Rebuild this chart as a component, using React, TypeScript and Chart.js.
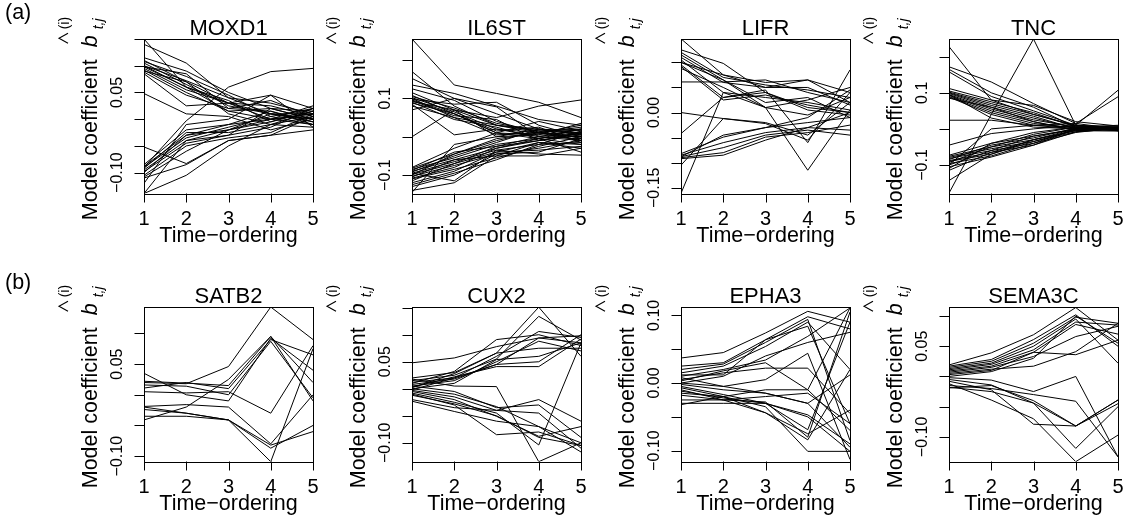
import React, { useEffect, useRef } from "react";
import { Chart, registerables } from "chart.js";

Chart.register(...registerables);

// ---------------- data ----------------
const TIMES = [1, 2, 3, 4, 5];
const TIME_LABELS = ["1", "2", "3", "4", "5"];
const X_TITLE = "Time\u2212ordering";

const MOXD1_RANGE = [-0.139, 0.15];
const MOXD1_YTICKS = [-0.1, -0.05, 0, 0.05, 0.1, 0.15];
const MOXD1_YLABELS = ["\u22120.10", "", "", "0.05", "", ""];
const MOXD1_SERIES = [
  [0.15, 0.06, 0.015, 0.0, 0.01],
  [0.14, 0.105, 0.04, 0.01, -0.005],
  [0.115, 0.09, 0.05, 0.02, 0.015],
  [0.11, 0.07, 0.03, 0.025, 0.005],
  [0.108, 0.08, 0.045, 0.005, 0.02],
  [0.105, 0.065, 0.025, 0.01, 0.0],
  [0.1, 0.072, 0.04, 0.03, 0.01],
  [0.1, 0.06, 0.035, -0.005, 0.02],
  [0.098, 0.085, 0.02, 0.015, -0.01],
  [0.095, 0.055, 0.03, 0.0, 0.025],
  [0.092, 0.05, 0.015, 0.02, 0.0],
  [0.09, 0.07, 0.01, -0.01, 0.015],
  [0.088, 0.045, 0.02, 0.035, 0.005],
  [0.085, 0.025, 0.03, 0.01, 0.01],
  [0.048, 0.01, 0.005, -0.02, 0.0],
  [0.098, 0.06, 0.03, 0.045, -0.015],
  [-0.085, -0.02, -0.01, 0.0, 0.01],
  [-0.088, -0.03, -0.02, -0.005, 0.015],
  [-0.09, -0.035, -0.015, 0.005, -0.01],
  [-0.092, -0.025, -0.025, -0.01, 0.005],
  [-0.095, -0.04, -0.02, 0.01, 0.0],
  [-0.098, -0.045, -0.03, -0.015, 0.02],
  [-0.1, -0.03, -0.01, 0.015, -0.005],
  [-0.105, -0.05, -0.035, -0.025, 0.01],
  [-0.108, -0.06, -0.02, 0.0, -0.01],
  [-0.11, -0.085, -0.04, -0.03, 0.005],
  [-0.139, -0.105, -0.05, -0.01, -0.015],
  [-0.139, -0.04, -0.03, 0.02, 0.0],
  [-0.052, -0.083, -0.04, -0.03, -0.02],
  [-0.09, -0.003, 0.06, 0.089, 0.095],
  [-0.12, -0.01, 0.0, 0.045, 0.02],
];

const IL6ST_RANGE = [-0.148, 0.255];
const IL6ST_YTICKS = [-0.1, 0, 0.1, 0.2];
const IL6ST_YLABELS = ["\u22120.1", "", "0.1", ""];
const IL6ST_SERIES = [
  [0.255, 0.135, 0.113, 0.09, 0.05],
  [0.17, 0.08, 0.03, 0.01, 0.0],
  [0.152, 0.1, 0.06, 0.02, 0.015],
  [0.135, 0.113, 0.08, 0.045, 0.03],
  [0.125, 0.095, 0.04, 0.01, -0.01],
  [0.115, 0.07, 0.03, 0.02, 0.005],
  [0.108, 0.06, 0.01, -0.005, 0.01],
  [0.105, 0.075, 0.035, 0.015, 0.02],
  [0.102, 0.065, 0.02, 0.0, -0.005],
  [0.1, 0.05, 0.005, 0.01, 0.025],
  [0.098, 0.085, 0.09, 0.03, 0.0],
  [0.096, 0.06, 0.015, 0.025, -0.015],
  [0.094, 0.055, 0.045, -0.01, 0.01],
  [0.092, 0.07, 0.0, 0.005, 0.035],
  [0.09, 0.045, 0.025, -0.005, -0.02],
  [0.088, 0.06, 0.01, 0.04, 0.015],
  [0.085, 0.005, 0.02, 0.01, 0.005],
  [0.08, 0.05, 0.03, 0.015, -0.01],
  [0.07, 0.1, 0.078, 0.0, 0.02],
  [0.0, 0.07, 0.05, 0.08, 0.096],
  [-0.08, -0.03, 0.01, 0.005, 0.0],
  [-0.082, -0.045, -0.01, 0.015, 0.01],
  [-0.085, -0.055, -0.02, -0.005, 0.02],
  [-0.088, -0.04, -0.025, 0.0, -0.01],
  [-0.09, -0.06, -0.03, -0.01, 0.005],
  [-0.092, -0.05, -0.015, 0.02, -0.005],
  [-0.095, -0.065, -0.035, -0.02, 0.015],
  [-0.098, -0.07, -0.04, -0.015, -0.02],
  [-0.1, -0.045, -0.005, 0.01, 0.03],
  [-0.103, -0.075, -0.045, -0.03, -0.01],
  [-0.105, -0.06, -0.05, -0.05, -0.03],
  [-0.108, -0.08, -0.03, -0.005, -0.04],
  [-0.11, -0.085, -0.055, -0.025, 0.0],
  [-0.115, -0.07, -0.025, -0.01, 0.01],
  [-0.12, -0.09, -0.04, -0.035, -0.025],
  [-0.125, -0.095, -0.06, -0.02, -0.015],
  [-0.13, -0.1, -0.045, -0.04, -0.005],
  [-0.14, -0.12, -0.05, -0.015, -0.03],
  [-0.145, -0.02, 0.0, 0.02, 0.01],
  [-0.095, -0.115, -0.035, -0.045, -0.048],
];

const LIFR_RANGE = [-0.1614, 0.1466];
const LIFR_YTICKS = [-0.15, -0.1, -0.05, 0, 0.05, 0.1];
const LIFR_YLABELS = ["\u22120.15", "", "", "0.00", "", ""];
const LIFR_SERIES = [
  [0.147, 0.075, 0.05, 0.065, 0.02],
  [0.125, 0.098, 0.04, 0.01, 0.0],
  [0.12, 0.07, 0.055, 0.045, 0.03],
  [0.115, 0.065, 0.02, 0.03, -0.01],
  [0.11, 0.06, 0.05, 0.05, 0.015],
  [0.105, 0.04, 0.03, 0.02, 0.005],
  [0.1, 0.075, 0.06, 0.065, 0.04],
  [0.095, 0.03, 0.045, -0.06, 0.085],
  [0.092, 0.025, 0.035, 0.015, 0.0],
  [0.088, 0.05, 0.01, 0.025, 0.05],
  [0.061, 0.061, 0.065, 0.04, 0.02],
  [0.1, 0.065, 0.01, -0.115, 0.005],
  [-0.042, 0.03, 0.04, 0.005, -0.005],
  [-0.082, -0.049, -0.03, -0.02, -0.01],
  [-0.085, -0.06, -0.04, -0.03, 0.0],
  [-0.088, -0.07, -0.045, -0.035, -0.045],
  [-0.09, -0.08, -0.049, -0.04, -0.025],
  [-0.092, -0.085, -0.055, -0.03, -0.035],
  [-0.105, -0.012, -0.02, -0.045, 0.02],
  [-0.161, 0.04, 0.01, -0.005, 0.03],
  [0.0, -0.012, -0.022, -0.055, 0.04],
  [-0.088, -0.045, -0.03, -0.01, 0.045],
];

const TNC_RANGE = [-0.179, 0.249];
const TNC_YTICKS = [-0.1, 0, 0.1, 0.2];
const TNC_YLABELS = ["\u22120.1", "", "0.1", ""];
const TNC_SERIES = [
  [0.228, 0.08, 0.04, 0.01, 0.005],
  [0.172, 0.13, 0.07, 0.015, 0.0],
  [0.165, 0.1, 0.06, 0.005, 0.01],
  [0.158, 0.09, 0.05, 0.01, -0.005],
  [0.112, 0.08, 0.065, 0.02, 0.008],
  [0.105, 0.075, 0.045, 0.005, 0.0],
  [0.102, 0.07, 0.04, 0.008, 0.003],
  [0.1, 0.065, 0.035, 0.0, 0.005],
  [0.098, 0.06, 0.03, 0.002, -0.003],
  [0.095, 0.055, 0.025, 0.005, 0.0],
  [0.093, 0.05, 0.02, -0.002, 0.002],
  [0.09, 0.045, 0.015, 0.003, -0.005],
  [0.088, 0.04, 0.01, 0.0, 0.004],
  [0.085, 0.06, 0.02, -0.005, 0.0],
  [0.024, 0.024, 0.01, 0.005, 0.003],
  [-0.178, 0.04, 0.249, 0.01, 0.005],
  [-0.045, -0.013, 0.0, 0.01, 0.107],
  [-0.073, -0.04, -0.02, 0.0, 0.005],
  [-0.076, -0.05, -0.03, -0.005, 0.0],
  [-0.079, -0.055, -0.035, -0.003, 0.003],
  [-0.082, -0.06, -0.04, 0.0, -0.002],
  [-0.085, -0.045, -0.025, 0.002, 0.005],
  [-0.088, -0.065, -0.045, -0.008, 0.0],
  [-0.09, -0.07, -0.03, 0.0, -0.005],
  [-0.093, -0.05, -0.015, 0.005, 0.002],
  [-0.096, -0.075, -0.04, -0.01, 0.003],
  [-0.1, -0.06, -0.02, -0.002, -0.003],
  [-0.105, -0.078, -0.045, 0.0, 0.0],
  [-0.11, -0.04, -0.01, 0.005, 0.004],
  [-0.115, -0.065, -0.03, -0.005, -0.006],
  [-0.143, -0.07, -0.035, -0.008, 0.002],
  [-0.1, 0.0, 0.01, 0.015, 0.089],
  [0.095, 0.03, 0.005, 0.0, 0.0],
];

const SATB2_RANGE = [-0.1087, 0.143];
const SATB2_YTICKS = [-0.1, -0.05, 0, 0.05, 0.1];
const SATB2_YLABELS = ["\u22120.10", "", "", "0.05", ""];
const SATB2_SERIES = [
  [0.02, 0.018, 0.046, 0.143, 0.09],
  [0.035, 0.0, -0.01, 0.092, 0.04],
  [0.022, 0.019, 0.015, 0.095, -0.01],
  [0.016, 0.014, 0.0, 0.087, -0.005],
  [0.011, 0.02, 0.01, 0.09, 0.065],
  [0.005, 0.003, 0.005, -0.03, 0.08],
  [-0.019, -0.016, -0.02, -0.08, 0.0],
  [-0.024, -0.03, -0.041, -0.087, -0.05],
  [-0.035, -0.035, -0.041, -0.109, 0.075],
  [-0.041, -0.02, 0.025, 0.095, 0.02],
  [-0.02, -0.03, -0.041, -0.082, -0.06],
];

const CUX2_RANGE = [-0.1346, 0.1513];
const CUX2_YTICKS = [-0.1, -0.05, 0, 0.05, 0.1, 0.15];
const CUX2_YLABELS = ["\u22120.10", "", "", "0.05", "", ""];
const CUX2_SERIES = [
  [0.048, 0.057, 0.078, 0.094, 0.085],
  [0.02, 0.03, 0.066, 0.151, 0.06],
  [0.015, 0.025, 0.055, 0.134, 0.09],
  [0.012, 0.02, 0.06, 0.106, 0.095],
  [0.01, 0.032, 0.091, 0.1, 0.08],
  [0.008, 0.018, 0.045, 0.094, 0.098],
  [0.005, 0.015, 0.05, 0.088, 0.07],
  [0.003, 0.022, 0.041, 0.041, 0.092],
  [0.0, 0.01, 0.054, 0.06, 0.085],
  [0.002, 0.028, 0.066, 0.075, 0.075],
  [-0.002, 0.02, 0.045, 0.05, 0.1],
  [0.018, 0.005, 0.004, -0.135, -0.1],
  [0.0, -0.01, -0.033, -0.07, -0.1],
  [-0.003, -0.015, -0.04, -0.045, -0.11],
  [-0.005, -0.02, -0.051, -0.088, -0.07],
  [-0.008, -0.025, -0.045, -0.104, 0.085],
  [-0.01, -0.03, -0.085, -0.08, -0.105],
  [-0.02, -0.035, -0.04, -0.02, -0.06],
  [-0.023, -0.042, -0.06, -0.07, -0.117],
  [0.005, -0.005, -0.035, -0.03, -0.09],
  [-0.012, -0.028, -0.05, -0.09, -0.105],
];

const EPHA3_RANGE = [-0.116, 0.1124];
const EPHA3_YTICKS = [-0.1, -0.05, 0, 0.05, 0.1];
const EPHA3_YLABELS = ["\u22120.10", "", "0.00", "", "0.10"];
const EPHA3_SERIES = [
  [0.037, 0.045, 0.074, 0.106, 0.09],
  [0.025, 0.03, 0.064, 0.098, 0.08],
  [0.02, 0.028, 0.06, 0.094, -0.085],
  [0.015, 0.025, 0.054, 0.09, 0.02],
  [0.012, 0.012, 0.064, 0.084, -0.06],
  [0.01, 0.02, 0.034, 0.069, 0.111],
  [0.008, -0.005, 0.005, 0.044, -0.113],
  [0.005, 0.015, 0.022, 0.022, -0.045],
  [0.003, 0.018, 0.03, -0.01, 0.111],
  [0.0, 0.01, 0.04, 0.06, 0.075],
  [-0.002, -0.01, -0.015, -0.03, 0.012],
  [-0.005, -0.017, -0.03, -0.069, 0.09],
  [-0.007, -0.02, -0.035, -0.101, -0.101],
  [-0.01, -0.025, -0.044, -0.084, 0.02],
  [-0.012, -0.022, -0.03, -0.047, -0.09],
  [-0.015, -0.02, -0.01, -0.01, -0.07],
  [-0.018, -0.025, -0.028, -0.08, 0.105],
  [-0.025, -0.025, -0.02, -0.015, -0.06],
  [-0.03, -0.03, -0.03, -0.05, -0.101],
  [-0.032, -0.02, -0.044, -0.075, -0.04],
  [0.0, -0.005, -0.015, -0.03, -0.095],
];

const SEMA3C_RANGE = [-0.1407, 0.1149];
const SEMA3C_YTICKS = [-0.1, -0.05, 0, 0.05, 0.1];
const SEMA3C_YLABELS = ["\u22120.10", "", "", "0.05", ""];
const SEMA3C_SERIES = [
  [0.019, 0.039, 0.069, 0.114, 0.06],
  [0.017, 0.028, 0.061, 0.102, 0.05],
  [0.015, 0.025, 0.055, 0.098, 0.088],
  [0.013, 0.022, 0.05, 0.095, 0.022],
  [0.011, 0.02, 0.044, 0.09, 0.085],
  [0.009, 0.017, 0.04, 0.086, 0.07],
  [0.007, 0.015, 0.033, 0.066, 0.083],
  [0.005, 0.012, 0.017, 0.041, 0.088],
  [0.003, 0.01, 0.04, 0.036, 0.06],
  [0.0, 0.008, 0.03, 0.1, 0.055],
  [-0.002, -0.006, -0.025, 0.0, -0.133],
  [-0.005, -0.014, -0.044, -0.082, -0.039],
  [-0.008, -0.022, -0.079, -0.082, -0.045],
  [-0.012, -0.039, -0.07, -0.141, -0.097],
  [-0.015, -0.02, -0.03, -0.041, -0.133],
  [-0.018, -0.025, -0.044, -0.119, -0.05],
  [-0.019, -0.015, -0.04, -0.082, -0.039],
];

const PANEL_TAGS = ["(a)", "(b)"];

// ---------------- layout ----------------
const W = 1124;
const H = 527;
const COL_LEFT = [144, 412, 681, 949];
const PLOT_W = 169;
const ROW_TOP = [39, 307];
const PLOT_H = 154.5;
const FONT = '"Liberation Sans", Arial, Helvetica, sans-serif';

const PANELS = [
  { title: "MOXD1", series: MOXD1_SERIES, range: MOXD1_RANGE, ticks: MOXD1_YTICKS, labels: MOXD1_YLABELS },
  { title: "IL6ST", series: IL6ST_SERIES, range: IL6ST_RANGE, ticks: IL6ST_YTICKS, labels: IL6ST_YLABELS },
  { title: "LIFR", series: LIFR_SERIES, range: LIFR_RANGE, ticks: LIFR_YTICKS, labels: LIFR_YLABELS },
  { title: "TNC", series: TNC_SERIES, range: TNC_RANGE, ticks: TNC_YTICKS, labels: TNC_YLABELS },
  { title: "SATB2", series: SATB2_SERIES, range: SATB2_RANGE, ticks: SATB2_YTICKS, labels: SATB2_YLABELS },
  { title: "CUX2", series: CUX2_SERIES, range: CUX2_RANGE, ticks: CUX2_YTICKS, labels: CUX2_YLABELS },
  { title: "EPHA3", series: EPHA3_SERIES, range: EPHA3_RANGE, ticks: EPHA3_YTICKS, labels: EPHA3_YLABELS },
  { title: "SEMA3C", series: SEMA3C_SERIES, range: SEMA3C_RANGE, ticks: SEMA3C_YTICKS, labels: SEMA3C_YLABELS },
];

function drawYTitle(ctx: CanvasRenderingContext2D, left: number, top: number, bottom: number) {
  const cy = (top + bottom) / 2;
  ctx.save();
  ctx.translate(left - 47, cy);
  ctx.rotate(-Math.PI / 2);
  ctx.textBaseline = "alphabetic";
  ctx.textAlign = "left";
  ctx.font = `21.5px ${FONT}`;
  const main = "Model coefficient";
  let x = -104;
  ctx.fillText(main, x, 0);
  x += ctx.measureText(main).width + 12;
  ctx.font = `italic 21.5px ${FONT}`;
  ctx.fillText("b", x, 0);
  const bw = ctx.measureText("b").width;
  ctx.beginPath();
  ctx.lineWidth = 1.1;
  ctx.moveTo(x + 4, -29);
  ctx.lineTo(x + 9, -38);
  ctx.lineTo(x + 14, -29);
  ctx.stroke();
  const sx = x + bw + 6;
  ctx.font = `14px ${FONT}`;
  ctx.fillText("(i)", sx, -28);
  ctx.font = `italic 14px ${FONT}`;
  ctx.fillText("t,j", sx, 6);
  ctx.restore();
}

function makeDecor(p: any, col: number, row: number) {
  return {
    id: "decor",
    afterDraw(chart: any) {
      const ctx: CanvasRenderingContext2D = chart.ctx;
      const { left, right, top, bottom } = chart.chartArea;
      const xs = chart.scales.x;
      const ys = chart.scales.y;
      ctx.save();
      ctx.strokeStyle = "#000";
      ctx.fillStyle = "#000";
      ctx.lineWidth = 1;
      ctx.strokeRect(Math.round(left) + 0.5, Math.round(top) + 0.5, Math.round(right - left), Math.round(bottom - top));
      // x ticks
      ctx.beginPath();
      TIMES.forEach((t) => {
        const px = Math.round(xs.getPixelForValue(t)) + 0.5;
        ctx.moveTo(px, bottom);
        ctx.lineTo(px, bottom + 9);
      });
      ctx.stroke();
      ctx.font = `20px ${FONT}`;
      ctx.textAlign = "center";
      ctx.textBaseline = "alphabetic";
      TIMES.forEach((t, i) => {
        ctx.fillText(TIME_LABELS[i], xs.getPixelForValue(t), bottom + 31);
      });
      ctx.font = `21.5px ${FONT}`;
      ctx.fillText(X_TITLE, (left + right) / 2, bottom + 48.5);
      // title
      ctx.font = `22px ${FONT}`;
      ctx.fillText(p.title, (left + right) / 2, top - 4);
      // y ticks
      ctx.beginPath();
      p.ticks.forEach((v: number) => {
        const py = Math.round(ys.getPixelForValue(v)) + 0.5;
        ctx.moveTo(left, py);
        ctx.lineTo(left - 9.5, py);
      });
      ctx.stroke();
      ctx.font = `16px ${FONT}`;
      p.ticks.forEach((v: number, i: number) => {
        const lab = p.labels[i];
        if (!lab) return;
        const py = ys.getPixelForValue(v);
        ctx.save();
        ctx.translate(left - 22, py);
        ctx.rotate(-Math.PI / 2);
        ctx.textAlign = "center";
        ctx.fillText(lab, 0, 0);
        ctx.restore();
      });
      drawYTitle(ctx, left, top, bottom);
      if (col === 0) {
        ctx.font = `21.5px ${FONT}`;
        ctx.textAlign = "left";
        ctx.fillText(PANEL_TAGS[row], 5, row === 0 ? 19 : 288.5);
      }
      ctx.restore();
    },
  };
}

function Panel({ index }: { index: number }) {
  const ref = useRef<HTMLCanvasElement>(null);
  useEffect(() => {
    const p = PANELS[index];
    const col = index % 4;
    const row = Math.floor(index / 4);
    const left = COL_LEFT[col];
    const top = ROW_TOP[row];
    const chart = new Chart(ref.current as HTMLCanvasElement, {
      type: "line",
      data: {
        datasets: p.series.map((s) => ({
          data: s.map((v, i) => ({ x: TIMES[i], y: v })),
          borderColor: "#000",
          borderWidth: 1,
          pointRadius: 0,
          fill: false,
          tension: 0,
        })),
      },
      options: {
        animation: false,
        responsive: false,
        devicePixelRatio: 1,
        events: [],
        layout: {
          padding: {
            left: left,
            top: top,
            right: W - (left + PLOT_W),
            bottom: H - (top + PLOT_H),
          },
        },
        plugins: { legend: { display: false }, tooltip: { enabled: false } },
        scales: {
          x: { type: "linear", min: 1, max: 5, display: false },
          y: { type: "linear", min: p.range[0], max: p.range[1], display: false },
        },
      },
      plugins: [makeDecor(p, col, row)],
    } as any);
    return () => chart.destroy();
  }, [index]);
  return (
    <canvas
      ref={ref}
      width={W}
      height={H}
      style={{ position: "absolute", left: 0, top: 0, width: W, height: H }}
    />
  );
}

export default function App() {
  return (
    <div style={{ position: "absolute", left: 0, top: 0, width: W, height: H, background: "#fff", overflow: "hidden" }}>
      {PANELS.map((_, i) => (
        <Panel key={i} index={i} />
      ))}
    </div>
  );
}
